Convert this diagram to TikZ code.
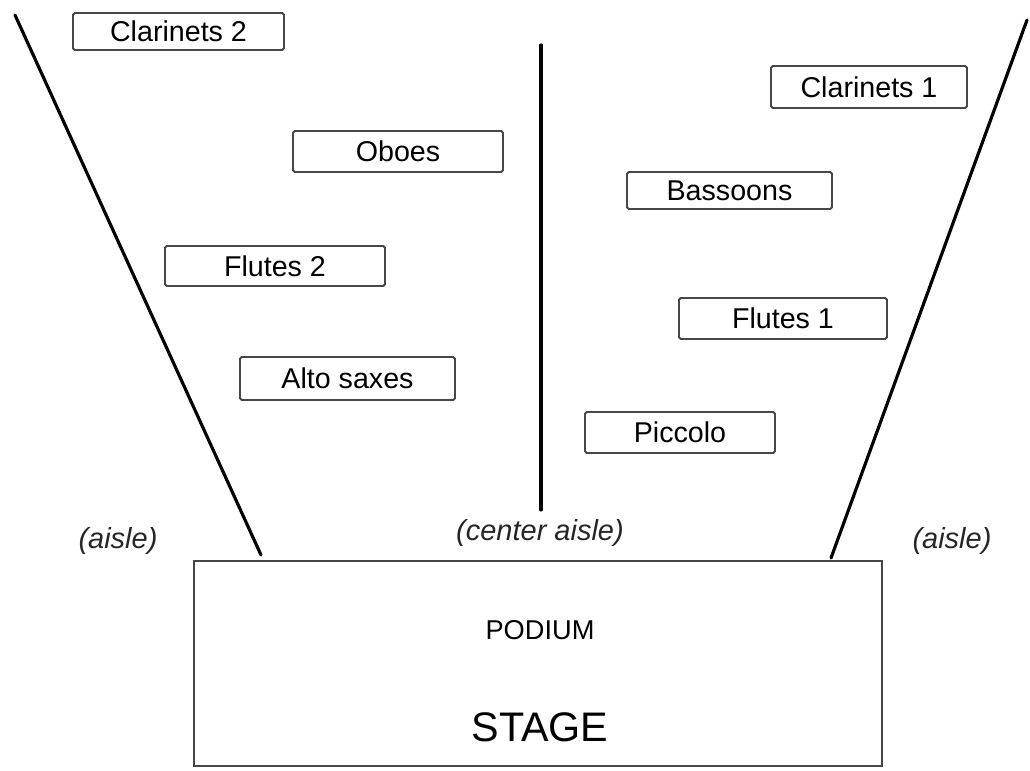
\documentclass[tikz,border=0pt]{standalone}
\usepackage{fontspec}
\setmainfont{Liberation Sans}
\tikzset{%
    sect/.style={draw=black!72,line width=1.1pt,rounded corners=1pt,inner sep=0pt,font=\fontsize{16.3}{18}\selectfont},
    wall/.style={line width=1.8pt,line cap=round},
    aisl/.style={font=\fontsize{16.5}{18}\selectfont\itshape,text=black!85}
}
\begin{document}
\begin{tikzpicture}
        \useasboundingbox (0,0) rectangle (20.6,-15.42);

        % sections left of the center aisle
        \node[sect,minimum width=4.22cm,minimum height=0.74cm] (cl2) at (3.57,-0.63){Clarinets 2};
        \node[sect,minimum width=4.2cm,minimum height=0.82cm] (ob) at (7.96,-3.03){Oboes};
        \node[sect,minimum width=4.4cm,minimum height=0.8cm] (fl2) at (5.5,-5.32){Flutes 2};
        \node[sect,minimum width=4.3cm,minimum height=0.86cm] (as) at (6.95,-7.57){Alto saxes};

        % sections right of the center aisle
        \node[sect,minimum width=3.92cm,minimum height=0.84cm] (cl1) at (17.38,-1.74){Clarinets 1};
        \node[sect,minimum width=4.1cm,minimum height=0.74cm] (bn) at (14.59,-3.81){Bassoons};
        \node[sect,minimum width=4.16cm,minimum height=0.82cm] (fl1) at (15.66,-6.37){Flutes 1};
        \node[sect,minimum width=3.8cm,minimum height=0.82cm] (pc) at (13.6,-8.65){Piccolo};

        % stage
        \node[draw=black!72,line width=1.1pt,minimum width=13.76cm,minimum height=4.1cm] (st) at (10.76,-13.27){};
        \node[font=\fontsize{15.5}{18}\selectfont] (pod) at (10.8,-12.6){PODIUM};
        \node[font=\fontsize{23.5}{26}\selectfont] (stg) at (10.8,-14.54){STAGE};

        % aisles
        \coordinate (l1) at (0.3,-0.3);
        \coordinate (l2) at (5.22,-11.1);
        \coordinate (c1) at (10.82,-0.9);
        \coordinate (c2) at (10.82,-10.2);
        \coordinate (r1) at (20.54,-0.4);
        \coordinate (r2) at (16.62,-11.16);
        \draw[wall] (l1) -- (l2);
        \draw[wall] (c1) -- (c2);
        \draw[wall] (r1) -- (r2);

        \node[aisl] (al) at (2.36,-10.82){(aisle)};
        \node[aisl] (ac) at (10.8,-10.66){(center aisle)};
        \node[aisl] (ar) at (19.04,-10.82){(aisle)};
    \end{tikzpicture}
\end{document}
